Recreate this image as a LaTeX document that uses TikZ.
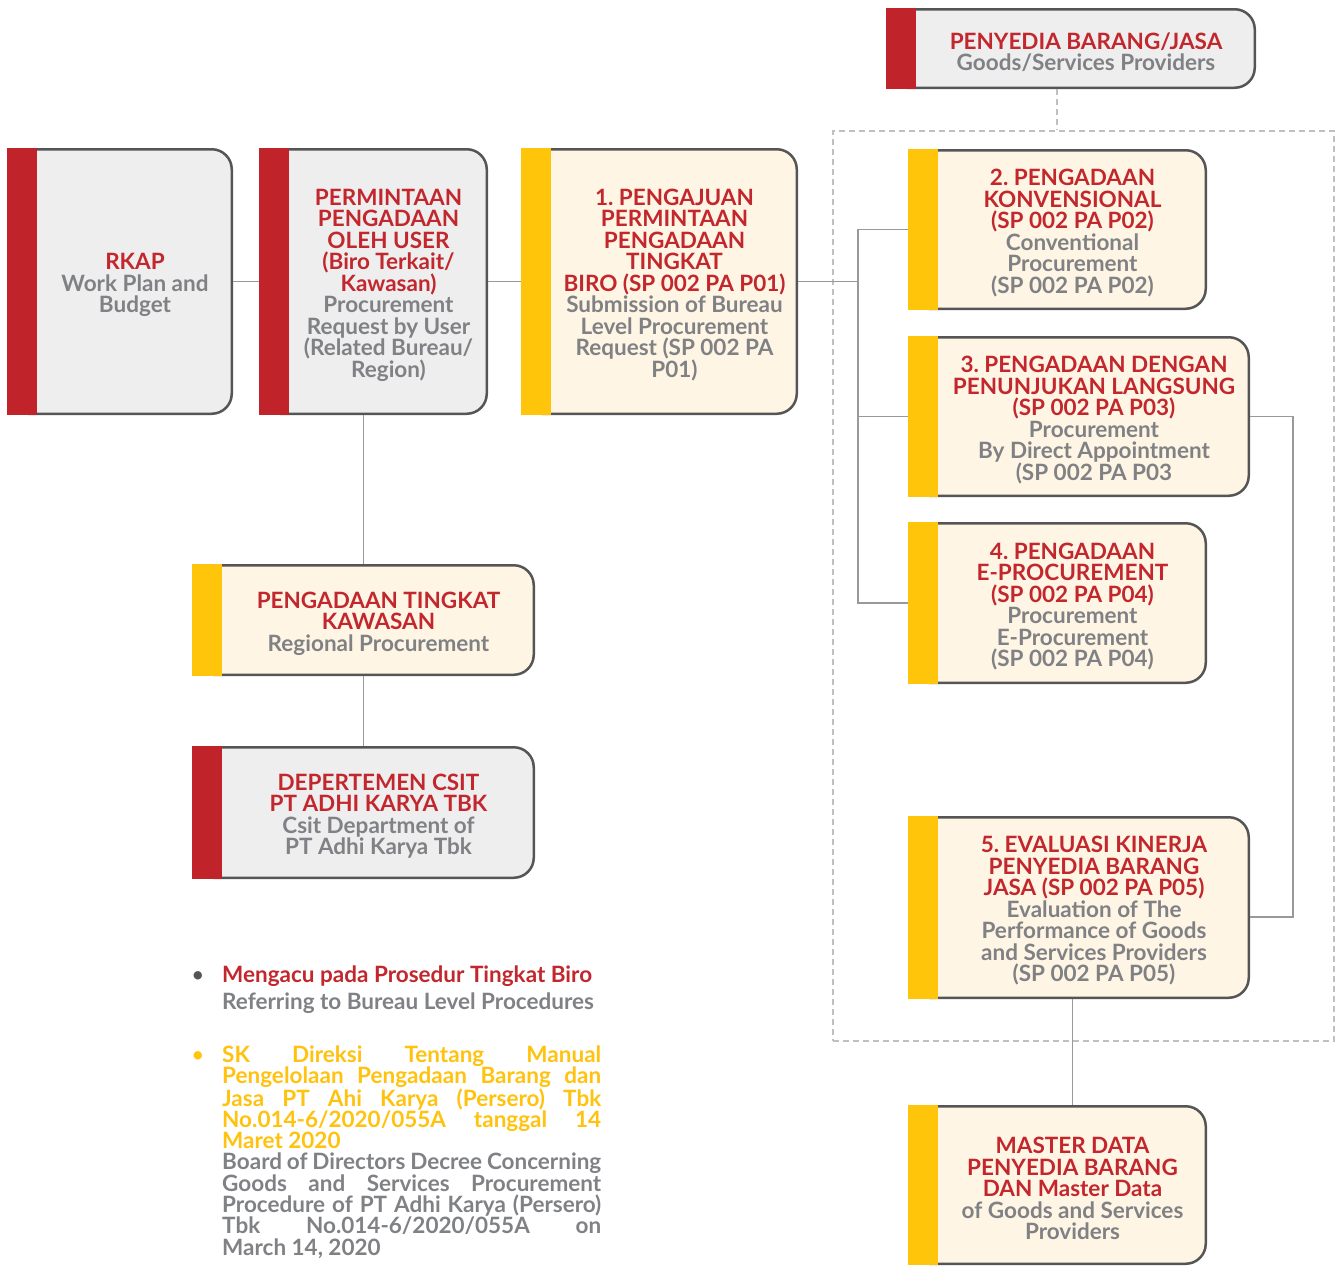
\documentclass[tikz,border=0pt]{standalone}
\usepackage{fontspec}
\setmainfont{Lato}
\usetikzlibrary{calc}

\definecolor{barred}{RGB}{193,35,42}
\definecolor{baryellow}{RGB}{255,197,10}
\definecolor{redtxt}{RGB}{194,39,45}
\definecolor{yellowtxt}{RGB}{255,194,14}
\definecolor{graytxt}{RGB}{128,129,133}
\definecolor{greyfill}{RGB}{238,238,238}
\definecolor{creamfill}{RGB}{255,245,228}
\definecolor{bordercol}{RGB}{85,85,85}
\definecolor{conncol}{RGB}{153,153,153}
\definecolor{dashcol}{RGB}{192,192,192}

\frenchspacing
\newcommand\boxfont{\bfseries\fontsize{22.5}{21.5}\selectfont}

% name, x1, y1, x2, y2, fill/bar style, red title, grey subtitle
\newcommand\procbox[8]{%
  \node[procshape, #6,
        minimum width={#4-#2-2.5}, minimum height={#5-#3-2.5}]
    (#1) at ({(#2+#4)/2},{(#3+#5)/2})
    {\hspace*{30pt}\parbox[c]{\dimexpr #4pt-#2pt-36pt\relax}{\vspace*{7pt}\centering\boxfont
      \color{redtxt}#7\\\color{graytxt}#8}};
  \fill[\csname bar@#6\endcsname] (#1.north west) rectangle ([xshift=30pt]#1.south west);
}
\expandafter\def\csname bar@greybox\endcsname{barred}
\expandafter\def\csname bar@creambox\endcsname{baryellow}

% one justified line of the decree text, and a flush-left closing line
\def\notecolor{graytxt}
\newcommand\jline[1]{\hbox to 379pt{\color{\notecolor}\spaceskip=2pt plus 1fil\xspaceskip=2pt plus 1fil #1}}
\newcommand\lastline[1]{\hbox to 379pt{\color{\notecolor}#1\hfil}}

\begin{document}
\begin{tikzpicture}[x=1pt,y=-1pt,
  procshape/.style={draw=bordercol, line width=2.5pt, rounded corners=20pt,
                    inner sep=0pt, shape=rectangle},
  greybox/.style={fill=greyfill},
  creambox/.style={fill=creamfill},
  conn/.style={draw=conncol, line width=1.5pt},
  dashline/.style={draw=dashcol, line width=1.3pt, dash pattern=on 6pt off 4pt},
]
\useasboundingbox (0,0) rectangle (1338,1266);

% dashed frame around the procurement methods
\node[dashline, inner sep=0pt, minimum width=501pt, minimum height=910pt]
  (group) at (1083.5,586) {};

% boxes
\procbox{penyedia}{886}{8}{1256}{89}{greybox}{PENYEDIA BARANG/JASA}{Goods/Services Providers}
\procbox{rkap}{7}{148}{233}{415}{greybox}{RKAP}{Work Plan and\\Budget}
\procbox{permintaan}{259}{148}{488}{415}{greybox}%
  {PERMINTAAN\\PENGADAAN\\OLEH USER\\(Biro Terkait/\\Kawasan)}%
  {Procurement\\Request by User\\(Related Bureau/\\Region)}
\procbox{pengajuan}{521}{148}{798}{415}{creambox}%
  {1. PENGAJUAN\\PERMINTAAN\\PENGADAAN\\TINGKAT\\BIRO (SP 002 PA P01)}%
  {Submission of Bureau\\Level Procurement\\Request (SP 002 PA\\P01)}
\procbox{konv}{908}{149}{1207}{310}{creambox}%
  {2. PENGADAAN\\KONVENSIONAL\\(SP 002 PA P02)}%
  {Conventional\\Procurement\\(SP 002 PA P02)}
\procbox{langsung}{908}{336}{1250}{497}{creambox}%
  {3. PENGADAAN DENGAN\\PENUNJUKAN LANGSUNG\\(SP 002 PA P03)}%
  {Procurement\\By Direct Appointment\\(SP 002 PA P03}
\procbox{eproc}{908}{522}{1207}{684}{creambox}%
  {4. PENGADAAN\\E-PROCUREMENT\\(SP 002 PA P04)}%
  {Procurement\\E-Procurement\\(SP 002 PA P04)}
\procbox{evaluasi}{908}{816}{1250}{999}{creambox}%
  {5. EVALUASI KINERJA\\PENYEDIA BARANG\\JASA (SP 002 PA P05)}%
  {Evaluation of The\\Performance of Goods\\and Services Providers\\(SP 002 PA P05)}
\procbox{master}{908}{1105}{1207}{1265}{creambox}%
  {MASTER DATA\\PENYEDIA BARANG\\DAN Master Data}%
  {of Goods and Services\\Providers}
\procbox{kawasan}{192}{564}{535}{676}{creambox}%
  {PENGADAAN TINGKAT\\KAWASAN}{Regional Procurement}
\procbox{csit}{192}{746}{535}{879}{greybox}%
  {DEPERTEMEN CSIT\\PT ADHI KARYA TBK}{Csit Department of\\PT Adhi Karya Tbk}

% connectors
\coordinate (jl) at (858,282);
\coordinate (jr) at (1293,917);
\coordinate (dx) at (1057,0);
\draw[conn] (rkap.east) -- (permintaan.west);
\draw[conn] (permintaan.east) -- (pengajuan.west);
\draw[conn] (pengajuan.east) -- (pengajuan.east -| jl);
\draw[conn] (konv.west) -- (konv.west -| jl) -- (eproc.west -| jl) -- (eproc.west);
\draw[conn] (langsung.west -| jl) -- (langsung.west);
\draw[conn] (langsung.east) -- (langsung.east -| jr) -- (jr) -- (evaluasi.east |- jr);
\draw[conn] ([xshift=15pt]master.north |- evaluasi.south) -- ([xshift=15pt]master.north);
\draw[conn] (kawasan.north |- permintaan.south) -- (kawasan.north);
\draw[conn] (kawasan.south) -- (csit.north);
\draw[dashline] (penyedia.south -| dx) -- (group.north -| dx);

% notes
\node[text=bordercol, font=\fontsize{22.5}{21}\selectfont, anchor=base] (dot1) at (198,982) {•};
\node[anchor=base west, inner sep=0pt, font=\boxfont] (note1) at (222,982)
  {\parbox[t]{379pt}{\baselineskip=27pt
    \def\notecolor{redtxt}\lastline{Mengacu pada Prosedur Tingkat Biro}\par
    \def\notecolor{graytxt}\lastline{Referring to Bureau Level Procedures}}};
\node[text=baryellow, font=\fontsize{22.5}{21}\selectfont, anchor=base] (dot2) at (198,1062) {•};
\node[anchor=base west, inner sep=0pt, font=\boxfont] (note2) at (222,1062)
  {\parbox[t]{379pt}{\baselineskip=21.3pt
    \def\notecolor{yellowtxt}%
    \jline{SK Direksi Tentang Manual}
    \jline{Pengelolaan Pengadaan Barang dan}
    \jline{Jasa PT Ahi Karya (Persero) Tbk}
    \jline{No.014-6/2020/055A tanggal 14}
    \lastline{Maret 2020}
    \def\notecolor{graytxt}%
    \jline{Board of Directors Decree Concerning}
    \jline{Goods and Services Procurement}
    \jline{Procedure of PT Adhi Karya (Persero)}
    \jline{Tbk No.014-6/2020/055A on}
    \lastline{March 14, 2020}}};
\end{tikzpicture}
\end{document}
